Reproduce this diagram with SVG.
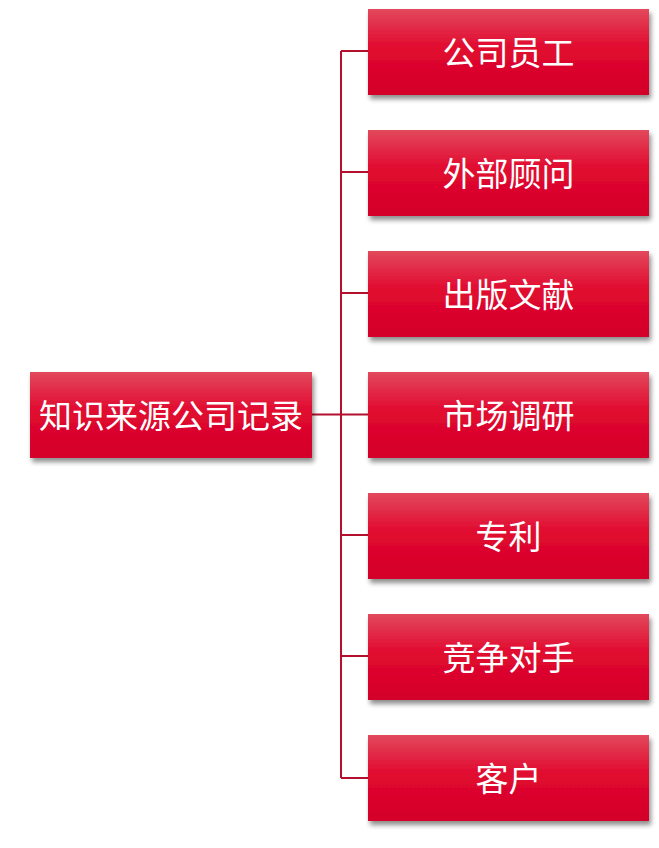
<svg xmlns="http://www.w3.org/2000/svg" width="659" height="848" viewBox="0 0 659 848">
<defs>
<linearGradient id="g" x1="0" y1="0" x2="0" y2="1">
<stop offset="0" stop-color="#e2495c"/>
<stop offset="0.45" stop-color="#e1092f"/>
<stop offset="1" stop-color="#d3002a"/>
</linearGradient>
<filter id="sh" x="-10%" y="-20%" width="125%" height="150%">
<feGaussianBlur in="SourceAlpha" stdDeviation="2.5"/>
<feOffset dx="2" dy="4" result="b"/>
<feComponentTransfer><feFuncA type="linear" slope="0.45"/></feComponentTransfer>
<feMerge><feMergeNode/><feMergeNode in="SourceGraphic"/></feMerge>
</filter>
</defs>
<style>
.box{fill:url(#g);filter:url(#sh)}
.t{font-family:"Noto Sans CJK SC","Liberation Sans",sans-serif;font-size:33px;font-weight:400;fill:#ffffff;text-anchor:middle;dominant-baseline:central}
.c{fill:none;stroke:#b4102e;stroke-width:2}
</style>
<g id="connectors">
<path class="c" d="M341 51 V778"/>
<path class="c" d="M312 414.5 H368"/>
<path class="c" d="M341 51 H368"/>
<path class="c" d="M341 172 H368"/>
<path class="c" d="M341 293 H368"/>
<path class="c" d="M341 535 H368"/>
<path class="c" d="M341 656 H368"/>
<path class="c" d="M341 778 H368"/>
</g>
<g id="root"><rect class="box" x="30" y="372" width="282" height="86"/><text class="t" x="171" y="414">知识来源公司记录</text></g>
<g id="n1"><rect class="box" x="368" y="9" width="281" height="86"/><text class="t" x="508.5" y="51">公司员工</text></g>
<g id="n2"><rect class="box" x="368" y="130" width="281" height="86"/><text class="t" x="508.5" y="172">外部顾问</text></g>
<g id="n3"><rect class="box" x="368" y="251" width="281" height="86"/><text class="t" x="508.5" y="293">出版文献</text></g>
<g id="n4"><rect class="box" x="368" y="372" width="281" height="86"/><text class="t" x="508.5" y="414">市场调研</text></g>
<g id="n5"><rect class="box" x="368" y="493" width="281" height="86"/><text class="t" x="508.5" y="535">专利</text></g>
<g id="n6"><rect class="box" x="368" y="614" width="281" height="86"/><text class="t" x="508.5" y="656">竞争对手</text></g>
<g id="n7"><rect class="box" x="368" y="735" width="281" height="86"/><text class="t" x="508.5" y="777">客户</text></g>
</svg>
